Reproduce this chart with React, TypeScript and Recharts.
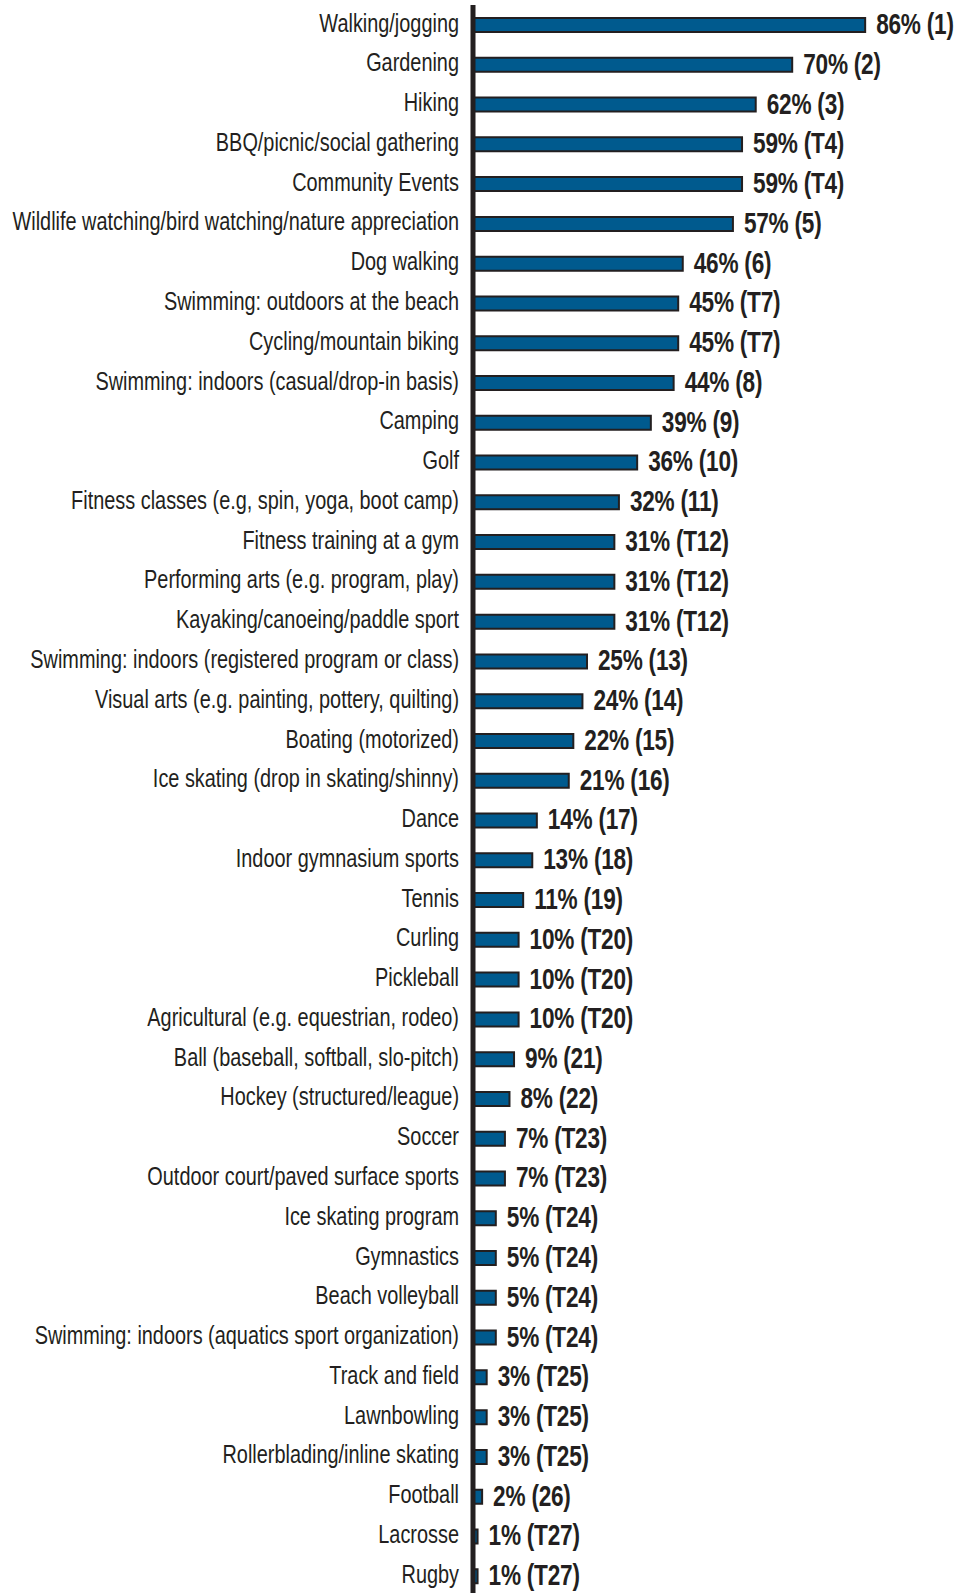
import React from "react";
import { BarChart, Bar, XAxis, YAxis, LabelList } from "recharts";

const categories = [
  "Walking/jogging",
  "Gardening",
  "Hiking",
  "BBQ/picnic/social gathering",
  "Community Events",
  "Wildlife watching/bird watching/nature appreciation",
  "Dog walking",
  "Swimming: outdoors at the beach",
  "Cycling/mountain biking",
  "Swimming: indoors (casual/drop-in basis)",
  "Camping",
  "Golf",
  "Fitness classes (e.g, spin, yoga, boot camp)",
  "Fitness training at a gym",
  "Performing arts (e.g. program, play)",
  "Kayaking/canoeing/paddle sport",
  "Swimming: indoors (registered program or class)",
  "Visual arts (e.g. painting, pottery, quilting)",
  "Boating (motorized)",
  "Ice skating (drop in skating/shinny)",
  "Dance",
  "Indoor gymnasium sports",
  "Tennis",
  "Curling",
  "Pickleball",
  "Agricultural (e.g. equestrian, rodeo)",
  "Ball (baseball, softball, slo-pitch)",
  "Hockey (structured/league)",
  "Soccer",
  "Outdoor court/paved surface sports",
  "Ice skating program",
  "Gymnastics",
  "Beach volleyball",
  "Swimming: indoors (aquatics sport organization)",
  "Track and field",
  "Lawnbowling",
  "Rollerblading/inline skating",
  "Football",
  "Lacrosse",
  "Rugby",
];

const values = [
  86, 70, 62, 59, 59, 57, 46, 45, 45, 44, 39, 36, 32, 31, 31, 31, 25, 24, 22, 21,
  14, 13, 11, 10, 10, 10, 9, 8, 7, 7, 5, 5, 5, 5, 3, 3, 3, 2, 1, 1,
];

const ranks = [
  "1", "2", "3", "T4", "T4", "5", "6", "T7", "T7", "8", "9", "10", "11", "T12", "T12",
  "T12", "13", "14", "15", "16", "17", "18", "19", "T20", "T20", "T20", "21", "22",
  "T23", "T23", "T24", "T24", "T24", "T24", "T25", "T25", "T25", "26", "T27", "T27",
];

const data = categories.map((name, i) => ({ name, value: values[i], rank: ranks[i] }));

const FONT = '"Liberation Sans", Arial, sans-serif';
const TEXT = "#231f20";

const CategoryTick = (props: any) => {
  const { x, y, payload } = props;
  return (
    <g transform={`translate(${x},${Number(y) - 2.5})`}>
      <text
        transform="scale(0.78,1)"
        textAnchor="end"
        dy="0.36em"
        fill={TEXT}
        fontFamily={FONT}
        fontSize={25.5}
      >
        {payload.value}
      </text>
    </g>
  );
};

const ValueLabel = (props: any) => {
  const { x, y, width, height, index } = props;
  const d = data[index];
  const lx = Number(x) + Number(width) + 11;
  const ly = Number(y) + Number(height) / 2 - 1.5;
  return (
    <g transform={`translate(${lx},${ly})`}>
      <text
        transform="scale(0.78,1)"
        dy="0.36em"
        fill={TEXT}
        fontFamily={FONT}
        fontWeight="bold"
        fontSize={29}
        letterSpacing={-0.3}
      >
        {`${d.value}% (${d.rank})`}
      </text>
    </g>
  );
};

export default function App() {
  return (
    <div
      style={{
        position: "absolute",
        left: 0,
        top: 0,
        width: 977,
        height: 1593,
        overflow: "hidden",
        background: "#fff",
      }}
    >
      <BarChart
        width={977}
        height={1596}
        data={data}
        layout="vertical"
        margin={{ top: 5, right: 48, bottom: 0, left: 0 }}
        barCategoryGap="60%"
      >
        <XAxis type="number" domain={[0, 100]} hide />
        <YAxis
          type="category"
          dataKey="name"
          width={473}
          axisLine={{ stroke: TEXT, strokeWidth: 5 }}
          tickLine={false}
          tickSize={0}
          tickMargin={14}
          interval={0}
          tick={CategoryTick}
        />
        <Bar
          dataKey="value"
          fill="#005a8e"
          stroke={TEXT}
          strokeWidth={2}
          barSize={14}
          isAnimationActive={false}
        >
          <LabelList dataKey="value" content={ValueLabel} />
        </Bar>
      </BarChart>
    </div>
  );
}
